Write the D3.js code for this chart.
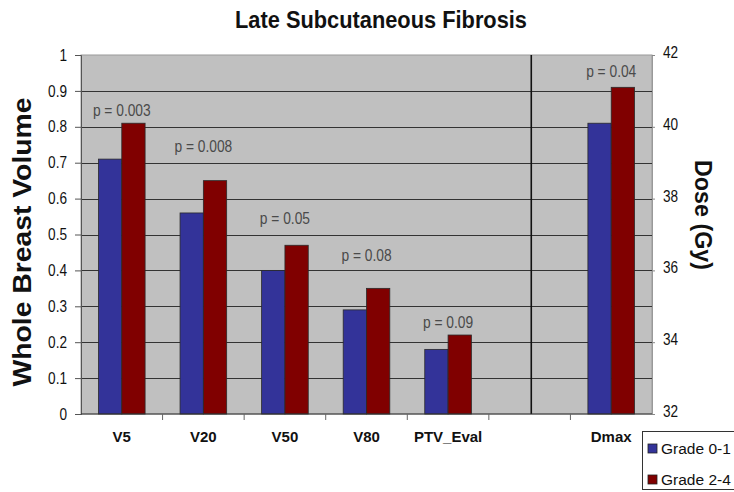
<!DOCTYPE html>
<html>
<head>
<meta charset="utf-8">
<script src="https://cdn.jsdelivr.net/npm/d3@7/dist/d3.min.js"></script>
<style>
  html, body { margin: 0; padding: 0; background: #fff; }
  svg { display: block; }
  .narrow { font-family: "Liberation Sans", Arial, Helvetica, sans-serif; }
  .bold { font-family: "Liberation Sans", Arial, Helvetica, sans-serif; font-weight: bold; }
</style>
</head>
<body>
<svg id="chart" width="734" height="492"></svg>
<script>
// Volume metrics (left axis, fraction of whole breast)
const volumeCategories = ["V5", "V20", "V50", "V80", "PTV_Eval"];
const grade01Volume = [0.71, 0.56, 0.40, 0.29, 0.18];
const grade24Volume = [0.81, 0.65, 0.47, 0.35, 0.22];
const volumePValues = ["p = 0.003", "p = 0.008", "p = 0.05", "p = 0.08", "p = 0.09"];
// Height (left-axis units) at which each p-value is written
const volumePLevels = [0.845, 0.745, 0.545, 0.442, 0.255];

// Dose metric (right axis, Gy)
const doseCategories = ["Dmax"];
const grade01Dose = [40.1];
const grade24Dose = [41.1];
const dosePValues = ["p = 0.04"];
const dosePLevels = [41.53];

// Slot layout along the x axis: volume metrics, an empty spacer, then dose
const spacer = " ";
const allSlots = [...volumeCategories, spacer, ...doseCategories];

const seriesNames = ["Grade 0-1", "Grade 2-4"];
const seriesColors = ["#333399", "#800000"];

const leftTicks = [0, 0.1, 0.2, 0.3, 0.4, 0.5, 0.6, 0.7, 0.8, 0.9, 1];
const rightTicks = [32, 34, 36, 38, 40, 42];

const svg = d3.select("#chart");
const plot = { left: 81, right: 652, top: 55, bottom: 414 };

const x = d3.scaleBand().domain(allSlots).range([plot.left, plot.right]).paddingInner(0).paddingOuter(0);
const xSub = d3.scaleBand().domain(seriesNames).range([0, x.bandwidth()]).paddingInner(0).paddingOuter(0.75);
const yLeft = d3.scaleLinear().domain([0, 1]).range([plot.bottom, plot.top]);
const yRight = d3.scaleLinear().domain([32, 42]).range([plot.bottom, plot.top]);

// Squeeze a text selection horizontally to a fraction of its natural width
function condense(sel, factor) {
  sel.each(function () {
    const w = this.getComputedTextLength();
    d3.select(this)
      .attr("textLength", w * factor)
      .attr("lengthAdjust", "spacingAndGlyphs");
  });
}

// Title
svg.append("text")
  .attr("class", "bold")
  .attr("x", 381).attr("y", 28)
  .attr("text-anchor", "middle")
  .attr("font-size", 24)
  .attr("fill", "#111")
  .attr("textLength", 292)
  .attr("lengthAdjust", "spacingAndGlyphs")
  .text("Late Subcutaneous Fibrosis");

// Plot background
svg.append("rect")
  .attr("x", plot.left).attr("y", plot.top)
  .attr("width", plot.right - plot.left).attr("height", plot.bottom - plot.top)
  .attr("fill", "#c0c0c0")
  .attr("stroke", "#9a9a9a").attr("stroke-width", 1);

// Horizontal gridlines
svg.append("g")
  .selectAll("line")
  .data(leftTicks.slice(1, -1))
  .join("line")
  .attr("x1", plot.left).attr("x2", plot.right)
  .attr("y1", d => Math.round(yLeft(d)) + 0.5).attr("y2", d => Math.round(yLeft(d)) + 0.5)
  .attr("stroke", "#333").attr("stroke-width", 1.1);

// Separator between the volume and dose groups
const sepX = x(spacer) + x.bandwidth() * 0.52;
svg.append("line")
  .attr("x1", sepX).attr("x2", sepX)
  .attr("y1", plot.top).attr("y2", plot.bottom)
  .attr("stroke", "#111").attr("stroke-width", 1.6);

// Bars helper
function drawBars(cats, s0, s1, yScale) {
  const g = svg.append("g");
  cats.forEach((c, i) => {
    [s0[i], s1[i]].forEach((v, k) => {
      g.append("rect")
        .attr("x", x(c) + xSub(seriesNames[k]))
        .attr("y", yScale(v))
        .attr("width", xSub.bandwidth())
        .attr("height", plot.bottom - yScale(v))
        .attr("fill", seriesColors[k])
        .attr("stroke", "#2a2a2a").attr("stroke-width", 0.8);
    });
  });
}
drawBars(volumeCategories, grade01Volume, grade24Volume, yLeft);
drawBars(doseCategories, grade01Dose, grade24Dose, yRight);

// p-value annotations
function drawP(cats, labels, levels, yScale) {
  svg.append("g")
    .selectAll("text")
    .data(cats)
    .join("text")
    .attr("class", "narrow")
    .attr("x", c => x(c) + x.bandwidth() / 2)
    .attr("y", (c, i) => yScale(levels[i]))
    .attr("dy", "0.35em")
    .attr("text-anchor", "middle")
    .attr("font-size", 16)
    .attr("fill", "#4a4a4a")
    .text((c, i) => labels[i])
    .call(condense, 0.86);
}
drawP(volumeCategories, volumePValues, volumePLevels, yLeft);
drawP(doseCategories, dosePValues, dosePLevels, yRight);

// Left axis
const leftAxis = svg.append("g")
  .attr("transform", `translate(${plot.left},0)`)
  .call(d3.axisLeft(yLeft).tickValues(leftTicks).tickFormat(d3.format("")).tickSize(6).tickPadding(8));
leftAxis.select(".domain").attr("stroke", "#555");
leftAxis.selectAll(".tick line").attr("stroke", "#555");
leftAxis.selectAll("text")
  .attr("class", "narrow")
  .attr("font-size", 16).attr("fill", "#111")
  .call(condense, 0.85);

// Right axis
const rightAxis = svg.append("g")
  .attr("transform", `translate(${plot.right},0)`)
  .call(d3.axisRight(yRight).tickValues(rightTicks).tickSize(3).tickPadding(8));
rightAxis.select(".domain").attr("stroke", "#999");
rightAxis.selectAll(".tick line").attr("stroke", "#888");
rightAxis.selectAll("text")
  .attr("class", "narrow")
  .attr("font-size", 16).attr("fill", "#111")
  .attr("dy", "0.15em")
  .call(condense, 0.85);

// Bottom axis: ticks at slot boundaries, labels centred in the slots
const bottom = svg.append("g");
bottom.append("line")
  .attr("x1", plot.left).attr("x2", plot.right)
  .attr("y1", plot.bottom).attr("y2", plot.bottom)
  .attr("stroke", "#333").attr("stroke-width", 1.2);
bottom.selectAll("line.tick")
  .data(allSlots.slice(1))
  .join("line")
  .attr("class", "tick")
  .attr("x1", c => x(c)).attr("x2", c => x(c))
  .attr("y1", plot.bottom).attr("y2", plot.bottom + 6)
  .attr("stroke", "#666");
bottom.selectAll("text")
  .data(allSlots.filter(c => c !== spacer))
  .join("text")
  .attr("class", "bold")
  .attr("x", c => x(c) + x.bandwidth() / 2)
  .attr("y", 442)
  .attr("text-anchor", "middle")
  .attr("font-size", 15)
  .attr("fill", "#111")
  .text(c => c);

// Axis titles
svg.append("text")
  .attr("class", "bold")
  .attr("transform", "translate(31,242) rotate(-90)")
  .attr("text-anchor", "middle")
  .attr("font-size", 26)
  .attr("fill", "#111")
  .attr("textLength", 289)
  .attr("lengthAdjust", "spacingAndGlyphs")
  .text("Whole Breast Volume");

svg.append("text")
  .attr("class", "bold")
  .attr("transform", "translate(695,215) rotate(90)")
  .attr("text-anchor", "middle")
  .attr("font-size", 24)
  .attr("fill", "#111")
  .attr("textLength", 110)
  .attr("lengthAdjust", "spacingAndGlyphs")
  .text("Dose (Gy)");

// Legend
const legend = svg.append("g").attr("transform", "translate(642,431)");
legend.append("rect")
  .attr("x", 0.5).attr("y", 0.5)
  .attr("width", 100).attr("height", 58)
  .attr("fill", "#fff").attr("stroke", "#333").attr("stroke-width", 1);
seriesNames.forEach((name, i) => {
  const row = legend.append("g").attr("transform", `translate(6,${18 + i * 31})`);
  row.append("rect")
    .attr("x", 0).attr("y", -5)
    .attr("width", 9).attr("height", 9)
    .attr("fill", seriesColors[i]).attr("stroke", "#222").attr("stroke-width", 0.8);
  row.append("text")
    .attr("class", "narrow")
    .attr("x", 13).attr("y", 0)
    .attr("dy", "0.35em")
    .attr("font-size", 15.5)
    .attr("fill", "#111")
    .text(name);
});
</script>
</body>
</html>
